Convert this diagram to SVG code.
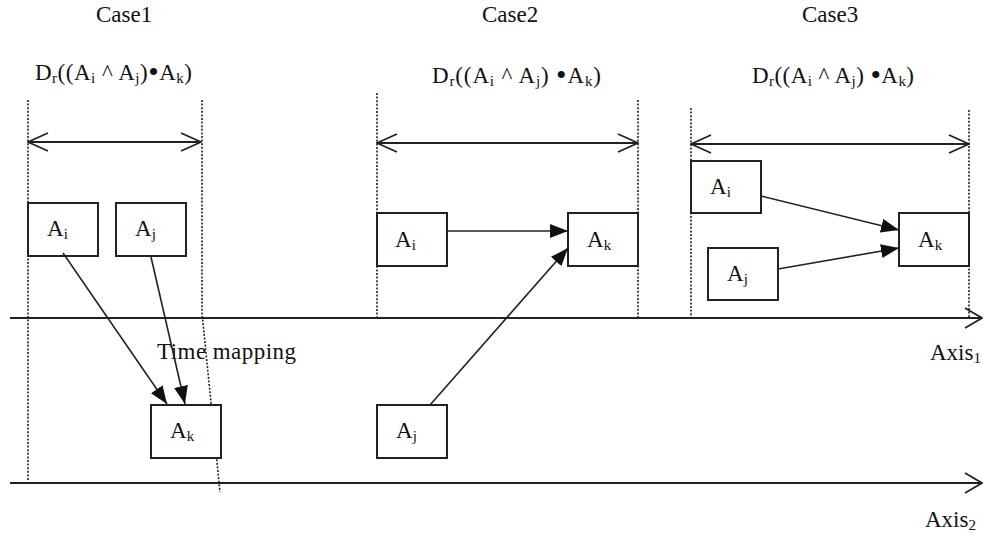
<svg xmlns="http://www.w3.org/2000/svg" width="983" height="536" viewBox="0 0 983 536">
<style>
text{font-family:"Liberation Serif","Times New Roman",serif;font-size:23px;fill:#111}
.sub{font-size:15px}
.bul{font-size:30px}
.box{fill:#fff;stroke:#222;stroke-width:2}
.dot{stroke:#222;stroke-width:1.6;stroke-dasharray:2,1.6;fill:none}
.ax{stroke:#222;stroke-width:1.8;fill:none}
.con{stroke:#222;stroke-width:1.6;fill:none;marker-end:url(#fa)}
.dbl{stroke:#222;stroke-width:1.8;fill:none;marker-start:url(#va);marker-end:url(#va)}
</style>
<defs>
<marker id="fa" markerUnits="userSpaceOnUse" viewBox="0 0 18 14" refX="18" refY="7" markerWidth="18" markerHeight="14" orient="auto"><path d="M0,0 L18,7 L0,14 z" fill="#111"/></marker>
<marker id="va" markerUnits="userSpaceOnUse" viewBox="-1 -1 22 20" refX="20" refY="9" markerWidth="22" markerHeight="20" orient="auto-start-reverse"><path d="M0,0 L20,9 L0,18" fill="none" stroke="#222" stroke-width="1.8"/></marker>
<marker id="vx" markerUnits="userSpaceOnUse" viewBox="-1 -1 19 22" refX="17" refY="10" markerWidth="19" markerHeight="22" orient="auto"><path d="M0,0 L17,10 L0,20" fill="none" stroke="#222" stroke-width="1.8"/></marker>
</defs>

<g id="titles">
<text x="96" y="22">Case1</text>
<text x="482" y="22">Case2</text>
<text x="802" y="22">Case3</text>
<text x="35" y="80" textLength="157" lengthAdjust="spacing">D<tspan class="sub" dy="3">r</tspan><tspan dy="-3">((A</tspan><tspan class="sub" dy="3">i</tspan><tspan dy="-3"> ^ A</tspan><tspan class="sub" dy="3">j</tspan><tspan dy="-3">)</tspan><tspan class="bul" dy="2">•</tspan><tspan dy="-2">A</tspan><tspan class="sub" dy="3">k</tspan><tspan dy="-3">)</tspan></text>
<text x="432" y="83" textLength="169" lengthAdjust="spacing">D<tspan class="sub" dy="3">r</tspan><tspan dy="-3">((A</tspan><tspan class="sub" dy="3">i</tspan><tspan dy="-3"> ^ A</tspan><tspan class="sub" dy="3">j</tspan><tspan dy="-3">) </tspan><tspan class="bul" dy="2">•</tspan><tspan dy="-2">A</tspan><tspan class="sub" dy="3">k</tspan><tspan dy="-3">)</tspan></text>
<text x="752" y="83" textLength="162" lengthAdjust="spacing">D<tspan class="sub" dy="3">r</tspan><tspan dy="-3">((A</tspan><tspan class="sub" dy="3">i</tspan><tspan dy="-3"> ^ A</tspan><tspan class="sub" dy="3">j</tspan><tspan dy="-3">) </tspan><tspan class="bul" dy="2">•</tspan><tspan dy="-2">A</tspan><tspan class="sub" dy="3">k</tspan><tspan dy="-3">)</tspan></text>
<text x="157" y="359" textLength="139" lengthAdjust="spacing">Time mapping</text>
<text x="930" y="360">Axis<tspan class="sub" dy="3">1</tspan></text>
<text x="925" y="527">Axis<tspan class="sub" dy="3">2</tspan></text>
</g>

<g id="guides">
<line class="dot" x1="28" y1="100" x2="28" y2="480"/>
<polyline class="dot" points="202,100 202,313 220,492"/>
<line class="dot" x1="377" y1="93" x2="377" y2="318"/>
<line class="dot" x1="638" y1="100" x2="638" y2="318"/>
<line class="dot" x1="691" y1="108" x2="691" y2="318"/>
<line class="dot" x1="969" y1="110" x2="969" y2="318"/>
<line class="dbl" x1="28" y1="142" x2="201" y2="142"/>
<line class="dbl" x1="377" y1="143" x2="638" y2="143"/>
<line class="dbl" x1="691" y1="144" x2="969" y2="144"/>
</g>

<g id="axes">
<line class="ax" x1="10" y1="318" x2="982" y2="318" marker-end="url(#vx)"/>
<line class="ax" x1="10" y1="483" x2="982" y2="483" marker-end="url(#vx)"/>
</g>

<g id="c1-ai"><rect class="box" x="28" y="203" width="70" height="53"/><text x="47" y="236">A<tspan class="sub" dy="3">i</tspan></text></g>
<g id="c1-aj"><rect class="box" x="116" y="203" width="70" height="53"/><text x="135" y="236">A<tspan class="sub" dy="3">j</tspan></text></g>
<g id="c1-ak"><rect class="box" x="151" y="405" width="70" height="53"/><text x="170" y="438">A<tspan class="sub" dy="3">k</tspan></text></g>

<g id="c2-ai"><rect class="box" x="377" y="213" width="70" height="53"/><text x="395" y="247">A<tspan class="sub" dy="3">i</tspan></text></g>
<g id="c2-ak"><rect class="box" x="568" y="213" width="70" height="53"/><text x="587" y="247">A<tspan class="sub" dy="3">k</tspan></text></g>
<g id="c2-aj"><rect class="box" x="377" y="405" width="70" height="53"/><text x="396" y="438">A<tspan class="sub" dy="3">j</tspan></text></g>

<g id="c3-ai"><rect class="box" x="691" y="161" width="70" height="52"/><text x="710" y="194">A<tspan class="sub" dy="3">i</tspan></text></g>
<g id="c3-ak"><rect class="box" x="899" y="213" width="70" height="53"/><text x="918" y="247">A<tspan class="sub" dy="3">k</tspan></text></g>
<g id="c3-aj"><rect class="box" x="708" y="248" width="70" height="52"/><text x="727" y="281">A<tspan class="sub" dy="3">j</tspan></text></g>

<g id="connectors">
<line class="con" x1="63" y1="253" x2="167" y2="404"/>
<line class="con" x1="151" y1="257" x2="185" y2="404"/>
<line class="con" x1="447" y1="231" x2="568" y2="231"/>
<line class="con" x1="430" y1="405" x2="568" y2="248"/>
<line class="con" x1="761" y1="196" x2="899" y2="230"/>
<line class="con" x1="778" y1="269" x2="899" y2="248"/>
</g>
</svg>
